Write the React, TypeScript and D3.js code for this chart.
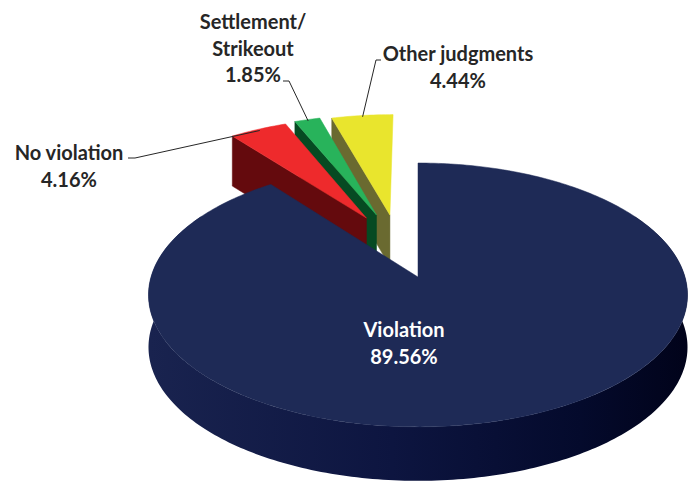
import React from "react";
import * as d3 from "d3";

// ---------- data ----------
const categories = ["Violation", "No violation", "Settlement/Strikeout", "Other judgments"];
const labelLines = [["Violation"], ["No violation"], ["Settlement/", "Strikeout"], ["Other judgments"]];
const values = [89.56, 4.16, 1.85, 4.44];

// ---------- styles ----------
const topColors = ["#1E2A56", "#EE2A2C", "#28B35B", "#E9E52D"];
const sideColors = ["#0E1640", "#640A0D", "#064A22", "#6A6A30"];
const textColors = ["#FFFFFF", "#262626", "#262626", "#262626"];

// explosion (fraction of radius) and its direction (degrees, clockwise from 12 o'clock)
const explodeDist = [0, 0.527, 0.538, 0.524];
const explodeDir = [0, 337, 342, 347.6];

// label layout: anchor (center x, first baseline y), leader start & elbow
const labelAnchor = [
  { x: 404, y: 337 },
  { x: 69, y: 160 },
  { x: 253, y: 29 },
  { x: 458, y: 61 },
];
const leaderStart: ([number, number] | null)[] = [null, [128, 158], [283, 81], [381, 60]];
const leaderElbow: ([number, number] | null)[] = [null, [135, 158], [289, 81], [376, 60]];

// ---------- projection ----------
const W = 689, H = 483;
const CX = 418, CY = 277, RX = 267, RY = 129.5, P = 0.136, DEPTH = 52;
const LINE_H = 26.5;

function project(u: number, v: number): [number, number, number] {
  const w = 1 - P * v;
  return [CX + (RX * u) / w, CY + (RY * v) / w, w];
}
function depthAt(w: number) {
  return DEPTH * Math.pow(w, -0.25);
}

const pieGen = d3.pie<number>().sort(null).startAngle(0).endAngle(2 * Math.PI);
const arcs = pieGen(values);
const fmt = d3.format(".2f");
const lineGen = d3.line();
const closedLine = d3.line().curve(d3.curveLinearClosed);

function sliceGeom(i: number) {
  const a = arcs[i];
  const dir = (explodeDir[i] * Math.PI) / 180;
  const ou = explodeDist[i] * Math.sin(dir);
  const ov = -explodeDist[i] * Math.cos(dir);
  const pt = (theta: number, r = 1) => project(ou + r * Math.sin(theta), ov - r * Math.cos(theta));
  return { a, ou, ov, pt };
}

function sampleAngles(s: number, e: number) {
  const n = Math.max(2, Math.ceil(((e - s) * 180) / Math.PI));
  return d3.range(n + 1).map((k) => s + ((e - s) * k) / n);
}

export default function App() {
  const slices = arcs.map((_, i) => {
    const { a, pt } = sliceGeom(i);
    const apex = pt(0, 0);
    const angs = sampleAngles(a.startAngle, a.endAngle);
    const top: [number, number][] = [[apex[0], apex[1]], ...angs.map((t) => {
      const p = pt(t);
      return [p[0], p[1]] as [number, number];
    })];
    const facePath = closedLine(top) as string;

    // left radial wall (under the start-angle edge)
    const o = pt(a.startAngle);
    const leftWall: [number, number][] = [
      [apex[0], apex[1]],
      [o[0], o[1]],
      [o[0], o[1] + depthAt(o[2])],
      [apex[0], apex[1] + depthAt(apex[2])],
    ];
    const leftWallPath = closedLine(leftWall) as string;

    // curved outer wall (front-facing part)
    const s = Math.max(a.startAngle, (60 * Math.PI) / 180);
    const e = Math.min(a.endAngle, (300 * Math.PI) / 180);
    let outerWallPath: string | null = null;
    if (e > s) {
      const ws = sampleAngles(s, e).map((t) => pt(t));
      const upper = ws.map((p) => [p[0], p[1]] as [number, number]);
      const lower = ws.map((p) => [p[0], p[1] + depthAt(p[2])] as [number, number]).reverse();
      outerWallPath = closedLine([...upper, ...lower]) as string;
    }
    return { i, facePath, leftWallPath, outerWallPath };
  });

  // back slices are painted from right to left, so each one hides the wall of its right neighbour
  const small = slices.filter((s) => s.i !== 0).reverse();
  const big = slices[0];

  const leaders = arcs.map((a, i) => {
    const st = leaderStart[i];
    const el = leaderElbow[i];
    if (!st || !el) return null;
    const { pt } = sliceGeom(i);
    const mid = (a.startAngle + a.endAngle) / 2;
    const p = pt(mid, 0.985);
    return lineGen([st, el, [p[0], p[1]]]) as string;
  });

  return (
    <svg width={W} height={H} style={{ display: "block", position: "absolute", left: 0, top: 0 }}>
      <defs>
        <linearGradient id="navySide" gradientUnits="userSpaceOnUse" x1={150} y1={0} x2={688} y2={0}>
          <stop offset="0" stopColor="#19234F" />
          <stop offset="0.45" stopColor="#0D1540" />
          <stop offset="0.8" stopColor="#040A2C" />
          <stop offset="1" stopColor="#01031A" />
        </linearGradient>
      </defs>
      <rect width={W} height={H} fill="#FFFFFF" />
      {small.map((s) => (
        <g key={categories[s.i]}>
          <path d={s.leftWallPath} fill={sideColors[s.i]} stroke={sideColors[s.i]} strokeWidth={0.5} />
          <path d={s.facePath} fill={topColors[s.i]} stroke={topColors[s.i]} strokeWidth={0.5} />
        </g>
      ))}
      <g>
        {big.outerWallPath && <path d={big.outerWallPath} fill="url(#navySide)" />}
        <path d={big.facePath} fill={topColors[0]} stroke={topColors[0]} strokeWidth={0.5} />
      </g>
      {leaders.map((d, i) => d && <path key={"l" + i} d={d} fill="none" stroke="#262626" strokeWidth={1} />)}
      {arcs.map((a, i) => {
        const lines = [...labelLines[i], fmt(values[i]) + "%"];
        const anc = labelAnchor[i];
        return (
          <text
            key={"t" + i}
            x={anc.x}
            y={anc.y}
            textAnchor="middle"
            fill={textColors[i]}
            style={{ fontFamily: "Lato, 'Open Sans', sans-serif", fontWeight: 700, fontSize: 20 }}
          >
            {lines.map((ln, k) => (
              <tspan key={k} x={anc.x} y={anc.y + k * LINE_H}>
                {ln}
              </tspan>
            ))}
          </text>
        );
      })}
    </svg>
  );
}
